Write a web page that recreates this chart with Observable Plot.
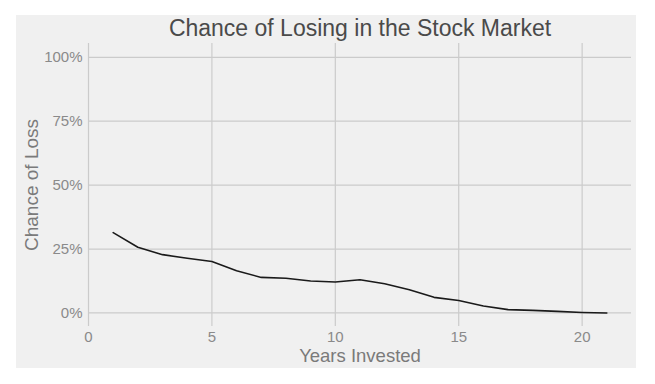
<!DOCTYPE html>
<html>
<head>
<meta charset="utf-8">
<script src="https://cdn.jsdelivr.net/npm/d3@7"></script>
<script src="https://cdn.jsdelivr.net/npm/@observablehq/plot@0.6"></script>
<style>
  html, body { margin: 0; padding: 0; background: #ffffff; }
  #box { position: absolute; left: 16px; top: 15px; width: 620px; height: 353px; background: #f0f0f0; overflow: hidden; }
  #box svg { position: absolute; left: 0; top: 0; }
</style>
</head>
<body>
<div id="box"></div>
<script>
const years = [1,2,3,4,5,6,7,8,9,10,11,12,13,14,15,16,17,18,19,20,21];
const chanceOfLoss = [31.4,25.7,22.8,21.4,20.1,16.5,13.9,13.6,12.5,12.1,13.0,11.4,9.1,6.1,4.9,2.7,1.3,1.0,0.6,0.2,0.0];
const xTicks = [0,5,10,15,20];
const yTicks = [0,25,50,75,100];
const title = "Chance of Losing in the Stock Market";
const xLabel = "Years Invested";
const yLabel = "Chance of Loss";

const data = years.map((y, i) => ({year: y, loss: chanceOfLoss[i]}));
const font = "'Liberation Sans', Arial, Helvetica, sans-serif";

const chart = Plot.plot({
  width: 620,
  height: 353,
  marginLeft: 72,
  marginRight: 5,
  marginTop: 28,
  marginBottom: 42,
  style: {background: "transparent", fontFamily: font, fontSize: "15px", color: "#8a8a8a", overflow: "visible"},
  x: {domain: [0, 22]},
  y: {domain: [-5.3, 105.4]},
  marks: [
    Plot.gridX(xTicks, {stroke: "#cbcbcb", strokeOpacity: 1, strokeWidth: 1.2}),
    Plot.gridY(yTicks, {stroke: "#cbcbcb", strokeOpacity: 1, strokeWidth: 1.2}),
    Plot.axisX(xTicks, {tickSize: 0, tickPadding: 5, label: null, fontSize: 15, fill: "#8a8a8a"}),
    Plot.axisY(yTicks, {tickSize: 0, tickPadding: 6, label: null, fontSize: 15, fill: "#8a8a8a", tickFormat: d => d + "%"}),
    Plot.line(data, {x: "year", y: "loss", stroke: "#1a1a1a", strokeWidth: 1.6}),
    Plot.text([title], {frameAnchor: "top", lineAnchor: "middle", textAnchor: "middle", dy: -14.7, fontSize: 23, fill: "#4a4a4a", fontFamily: font}),
    Plot.text([xLabel], {frameAnchor: "bottom", lineAnchor: "middle", textAnchor: "middle", dy: 30, fontSize: 18.5, fill: "#7a7a7a", fontFamily: font}),
    Plot.text([yLabel], {frameAnchor: "left", lineAnchor: "middle", textAnchor: "middle", dx: -57, rotate: -90, fontSize: 19, fill: "#7a7a7a", fontFamily: font})
  ]
});
document.getElementById("box").appendChild(chart);
</script>
</body>
</html>
